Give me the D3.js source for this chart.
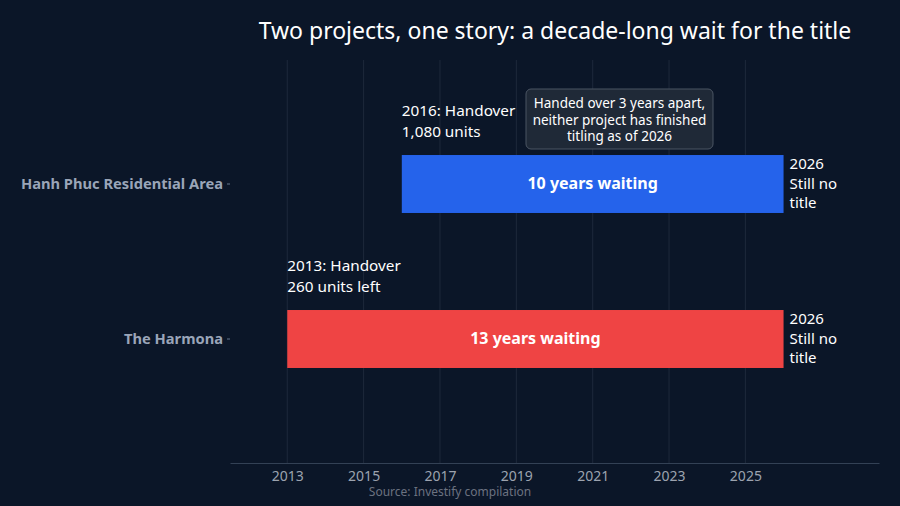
<!DOCTYPE html>
<html><head><meta charset="utf-8">
<script src="https://cdn.jsdelivr.net/npm/d3@7"></script>
<style>body{margin:0;background:#0b1628;font-family:"Noto Sans",sans-serif}</style>
</head><body><svg id="c" width="900" height="506"></svg>
<script>
// data
var projects = ["Hanh Phuc Residential Area", "The Harmona"];
var startYears = [2016, 2013];
var endYears = [2026, 2026];
var barColors = ["#2563eb", "#ef4444"];
var barLabels = ["10 years waiting", "13 years waiting"];
var startNotes = [["2016: Handover", "1,080 units"], ["2013: Handover", "260 units left"]];
var endNote = ["2026", "Still no", "title"];
var tickYears = [2013, 2015, 2017, 2019, 2021, 2023, 2025];

var svg = d3.select("#c");
svg.append("rect").attr("width", 900).attr("height", 506).attr("fill", "#0b1628");

var x = d3.scaleLinear().domain([2011.5, 2028.5]).range([230, 879]);
var y = d3.scaleBand().domain(projects).range([60, 463]).paddingInner(0.626).paddingOuter(0.613);

// gridlines
svg.selectAll(".grid").data(tickYears).enter().append("line")
    .attr("x1", d => x(d)).attr("x2", d => x(d))
    .attr("y1", 60).attr("y2", 463)
    .attr("stroke", "#1e293b").attr("stroke-width", 1);

var xa = svg.append("g").attr("transform", "translate(0,463)")
    .call(d3.axisBottom(x).tickValues(tickYears).tickFormat(d3.format("d")).tickSize(0).tickPadding(8));
xa.select(".domain").attr("stroke", "#334155");
xa.selectAll("text").attr("fill", "#9ca3af").attr("font-size", 14).attr("font-family", "Noto Sans");

var ya = svg.append("g").attr("transform", "translate(230,0)")
    .call(d3.axisLeft(y).tickSize(3).tickPadding(4));
ya.select(".domain").remove();
ya.selectAll("line").attr("stroke", "#64748b");
ya.selectAll("text").attr("fill", "#9aa5b8").attr("font-size", 14.7).attr("font-weight", "bold").attr("font-family", "Noto Sans");

projects.forEach(function (p, i) {
    var y0 = y(p), bw = y.bandwidth();
    svg.append("rect").attr("x", x(startYears[i])).attr("y", y0)
        .attr("width", x(endYears[i]) - x(startYears[i])).attr("height", bw)
        .attr("fill", barColors[i]);
    svg.append("text").attr("x", (x(startYears[i]) + x(endYears[i])) / 2).attr("y", y0 + bw / 2 + 5)
        .attr("text-anchor", "middle").attr("fill", "#fff").attr("font-size", 16).attr("font-weight", "bold")
        .text(barLabels[i]);
    var t = svg.append("text").attr("x", x(startYears[i])).attr("y", y0 - 39)
        .attr("fill", "#fff").attr("font-size", 15.3);
    startNotes[i].forEach(function (s, k) {
        t.append("tspan").attr("x", x(startYears[i])).attr("dy", k ? 21 : 0).text(s);
    });
    var e = svg.append("text").attr("x", x(endYears[i]) + 6).attr("y", y0 + 14)
        .attr("fill", "#fff").attr("font-size", 15);
    endNote.forEach(function (s, k) {
        e.append("tspan").attr("x", x(endYears[i]) + 6).attr("dy", k ? 19.5 : 0).text(s);
    });
});

// annotation box
var bx = svg.append("g");
bx.append("rect").attr("x", 526).attr("y", 89).attr("width", 187).attr("height", 60).attr("rx", 5)
    .attr("fill", "#1f2937").attr("stroke", "#4b5563");
var at = bx.append("text").attr("text-anchor", "middle").attr("fill", "#fff").attr("font-size", 13.5);
["Handed over 3 years apart,", "neither project has finished", "titling as of 2026"].forEach(function (s, k) {
    at.append("tspan").attr("x", 619.5).attr("y", 108 + k * 16.5).text(s);
});

svg.append("text").attr("x", 555).attr("y", 39).attr("text-anchor", "middle")
    .attr("fill", "#fff").attr("font-size", 23).text("Two projects, one story: a decade-long wait for the title");
svg.append("text").attr("x", 450).attr("y", 496).attr("text-anchor", "middle")
    .attr("fill", "#6b7280").attr("font-size", 12).text("Source: Investify compilation");
</script></body></html>
